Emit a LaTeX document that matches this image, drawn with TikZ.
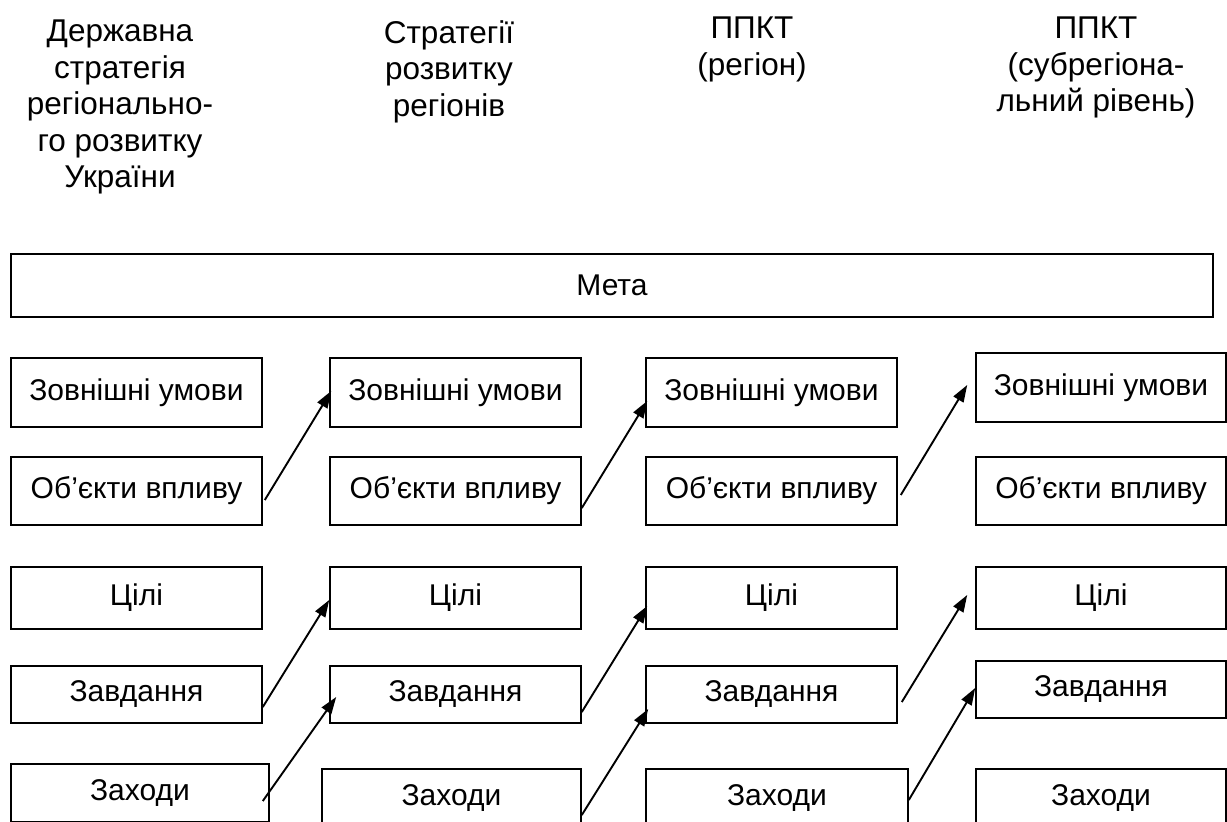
\documentclass[tikz,border=0pt]{standalone}
\usepackage{fontspec}
\setmainfont{Liberation Sans}
\usetikzlibrary{arrows.meta}
\tikzset{
  box/.style={draw, line width=1.6pt, inner sep=0pt, font=\fontsize{30}{34}\selectfont},
  head/.style={inner sep=0pt, anchor=north, align=center, font=\fontsize{31.5}{36.5}\selectfont},
  conn/.style={line width=1.9pt, -{Triangle[length=17pt,width=11.5pt]}}
}
\begin{document}
\begin{tikzpicture}[x=1pt,y=1pt]
\clip (0,0) rectangle (1227,-822);
\useasboundingbox (0,0) rectangle (1227,-822);
% headings
\node[head] (h1) at (120,-20) {Державна\\стратегія\\регіонально-\\го розвитку\\України};
\node[head] (h2) at (449,-20) {Стратегії\\розвитку\\регіонів};
\node[head] (h3) at (752,-17) {ППКТ\\(регіон)};
\node[head] (h4) at (1096,-17) {ППКТ\\(субрегіона-\\льний рівень)};
% goal
\node[box, minimum width=1202pt, minimum height=63pt] (meta) at (612,-285.5) {Мета};
% row 1
\node[box, minimum width=251pt, minimum height=69pt] (c1r1) at (136.5,-392.5) {Зовнішні умови};
\node[box, minimum width=251pt, minimum height=69pt] (c2r1) at (455.5,-392.5) {Зовнішні умови};
\node[box, minimum width=251pt, minimum height=69pt] (c3r1) at (771.5,-392.5) {Зовнішні умови};
\node[box, minimum width=250pt, minimum height=69pt] (c4r1) at (1101,-387.5) {Зовнішні умови};
% row 2
\node[box, minimum width=251pt, minimum height=68pt] (c1r2) at (136.5,-491) {Об’єкти впливу};
\node[box, minimum width=251pt, minimum height=68pt] (c2r2) at (455.5,-491) {Об’єкти впливу};
\node[box, minimum width=251pt, minimum height=68pt] (c3r2) at (771.5,-491) {Об’єкти впливу};
\node[box, minimum width=250pt, minimum height=68pt] (c4r2) at (1101,-491) {Об’єкти впливу};
% row 3
\node[box, minimum width=251pt, minimum height=62pt] (c1r3) at (136.5,-598) {Цілі};
\node[box, minimum width=251pt, minimum height=62pt] (c2r3) at (455.5,-598) {Цілі};
\node[box, minimum width=251pt, minimum height=62pt] (c3r3) at (771.5,-598) {Цілі};
\node[box, minimum width=250pt, minimum height=62pt] (c4r3) at (1101,-598) {Цілі};
% row 4
\node[box, minimum width=251pt, minimum height=57pt] (c1r4) at (136.5,-694.5) {Завдання};
\node[box, minimum width=251pt, minimum height=57pt] (c2r4) at (455.5,-694.5) {Завдання};
\node[box, minimum width=251pt, minimum height=57pt] (c3r4) at (771.5,-694.5) {Завдання};
\node[box, minimum width=250pt, minimum height=57pt] (c4r4) at (1101,-689.5) {Завдання};
% row 5
\node[box, minimum width=258pt, minimum height=58pt] (c1r5) at (140,-793) {Заходи};
\node[box, minimum width=259pt, minimum height=59pt] (c2r5) at (451.5,-798.5) {Заходи};
\node[box, minimum width=262pt, minimum height=59pt] (c3r5) at (777,-798.5) {Заходи};
\node[box, minimum width=250pt, minimum height=59pt] (c4r5) at (1101,-798.5) {Заходи};
% connectors
\draw[conn] ([xshift=2pt,yshift=-9pt]c1r2.east) -- ([xshift=2pt,yshift=1.5pt]c2r1.west);
\draw[conn] ([yshift=-17pt]c2r2.east) -- ([xshift=2pt,yshift=-8.5pt]c3r1.west);
\draw[conn] ([xshift=3pt,yshift=-4pt]c3r2.east) -- ([xshift=-8pt,yshift=2.5pt]c4r1.west);
\draw[conn] ([yshift=-12.5pt]c1r4.east) -- ([yshift=-2pt]c2r3.west);
\draw[conn] ([xshift=-7pt,yshift=-8pt]c1r5.east) -- ([xshift=7pt,yshift=-2.5pt]c2r4.west);
\draw[conn] ([yshift=-17.5pt]c2r4.east) -- ([xshift=2pt,yshift=-8pt]c3r3.west);
\draw[conn] ([yshift=-16.5pt]c2r5.east) -- ([xshift=3pt,yshift=-14.5pt]c3r4.west);
\draw[conn] ([xshift=4pt,yshift=-7.5pt]c3r4.east) -- ([xshift=-8pt,yshift=3pt]c4r3.west);
\draw[conn] ([yshift=-1.5pt]c3r5.east) -- ([yshift=1.5pt]c4r4.west);
\end{tikzpicture}
\end{document}
